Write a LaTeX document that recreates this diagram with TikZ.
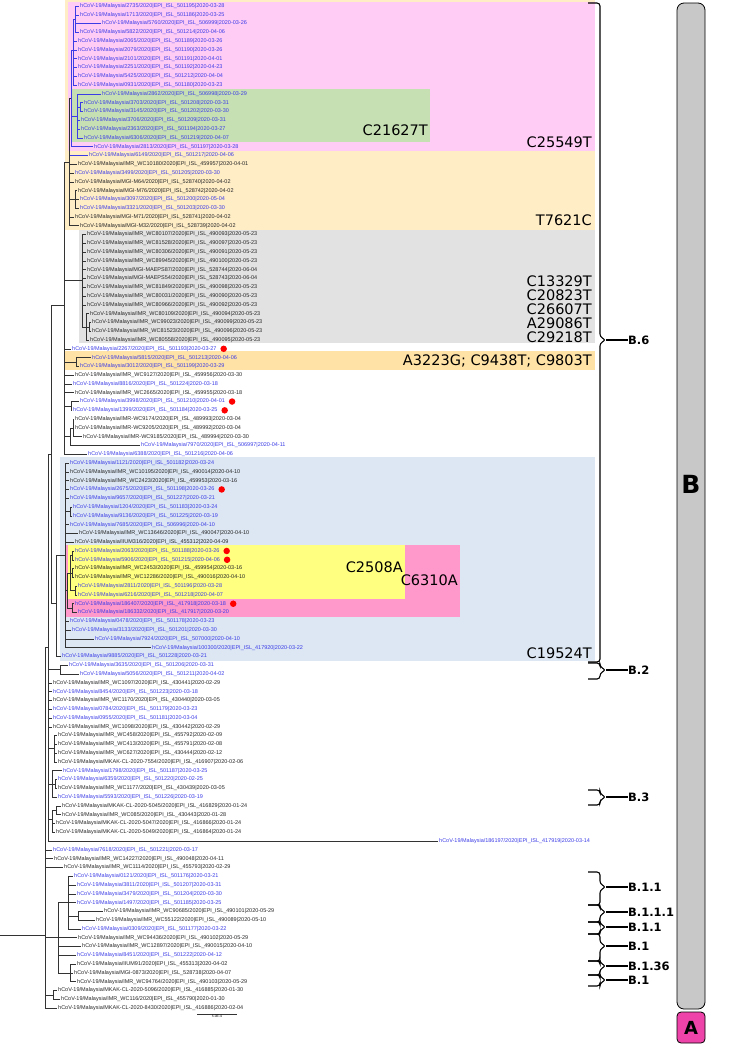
\documentclass[tikz,border=0pt]{standalone}
\usepackage{fontspec}
\setmainfont{Liberation Sans}
\newfontfamily\annfont{DejaVu Sans}
\usepackage{tikz}
\usetikzlibrary{positioning, calc}
\definecolor{leafblue}{HTML}{3C3CE6}
\definecolor{leafblack}{HTML}{262626}
\definecolor{treeline}{HTML}{333333}
\definecolor{creamC}{HTML}{FFEDC6}
\definecolor{pinkA}{HTML}{FFCCF6}
\definecolor{greenC}{HTML}{C6E0B4}
\definecolor{grayC}{HTML}{E2E2E2}
\definecolor{orangeD}{HTML}{FFE2A6}
\definecolor{blueE}{HTML}{DCE7F3}
\definecolor{pinkF}{HTML}{FF99CC}
\definecolor{yellowG}{HTML}{FFFF80}
\definecolor{barfill}{HTML}{C8C8C8}
\definecolor{cladeA}{HTML}{EE44AA}
% row position of a leaf
\newcommand\ry[1]{-6-(#1-1)*8.79}

\begin{document}
\begin{tikzpicture}[
  x=1pt, y=1pt,
  leaf/.style={anchor=west, inner sep=1pt, font=\fontsize{5.5}{6}\selectfont},
  br/.style={draw=treeline, line width=0.55pt},
  brB/.style={draw=leafblue, line width=0.55pt},
  dot/.style={circle, fill=red, inner sep=0pt, minimum size=6.5pt},
  mut/.style={anchor=east, inner sep=0pt, font=\annfont\fontsize{14.5}{15}\selectfont},
  clab/.style={anchor=west, inner sep=0pt, font=\annfont\bfseries\fontsize{11.5}{12}\selectfont},
  brace/.style={draw=black, line width=1.1pt, rounded corners=3pt},
]
\useasboundingbox (0,0) rectangle (738,-1044);

% clade boxes
\fill[creamC]  (65,0)    rectangle (595,-230);
\fill[pinkA]   (68,-2)   rectangle (595,-151);
\fill[greenC]  (72,-89)  rectangle (430,-142);
\fill[grayC]   (79,-230) rectangle (595,-343);
\fill[orangeD] (65,-351) rectangle (595,-370);
\fill[blueE]   (60,-457) rectangle (595,-661);
\fill[pinkF]   (65,-545) rectangle (460,-617);
\fill[yellowG] (68,-545) rectangle (405,-599);

% leaves
\foreach \i/\x/\col/\id/\epi/\dt in {
  1/79/leafblue/2735/501195/2020-03-28, 2/79/leafblue/1713/501186/2020-03-25,
  3/101/leafblue/5760/506999/2020-03-26, 4/79/leafblue/5822/501214/2020-04-06,
  5/77/leafblue/2065/501189/2020-03-26, 6/77/leafblue/2079/501190/2020-03-26,
  7/77/leafblue/2101/501191/2020-04-01, 8/77/leafblue/2251/501192/2020-04-23,
  9/77/leafblue/5425/501212/2020-04-04, 10/77/leafblue/0931/501180/2020-03-23,
  11/101/leafblue/2862/506998/2020-03-29, 12/83/leafblue/3703/501208/2020-03-31,
  13/83/leafblue/3145/501202/2020-03-30, 14/80/leafblue/3706/501209/2020-03-31,
  15/80/leafblue/2363/501194/2020-03-27, 16/83/leafblue/6306/501219/2020-04-07,
  17/93/leafblue/2813/501197/2020-03-28, 18/88/leafblue/6149/501217/2020-04-06,
  19/77/leafblack/IMR\_WC10180/459957/2020-04-01, 20/74/leafblue/3499/501205/2020-03-30,
  21/74/leafblack/MGI-M64/528740/2020-04-02, 22/77/leafblack/MGI-M76/528742/2020-04-02,
  23/79/leafblue/3097/501200/2020-05-04, 24/79/leafblue/3321/501203/2020-03-30,
  25/74/leafblack/MGI-M71/528741/2020-04-02, 26/79/leafblack/MGI-M32/528739/2020-04-02,
  27/86/leafblack/IMR\_WC80107/490093/2020-05-23, 28/86/leafblack/IMR\_WC81528/490097/2020-05-23,
  29/86/leafblack/IMR\_WC80306/490091/2020-05-23, 30/86/leafblack/IMR\_WC89945/490100/2020-05-23,
  31/86/leafblack/MGI-MAEPS87/528744/2020-06-04, 32/86/leafblack/MGI-MAEPS54/528743/2020-06-04,
  33/86/leafblack/IMR\_WC81849/490098/2020-05-23, 34/86/leafblack/IMR\_WC80031/490090/2020-05-23,
  35/86/leafblack/IMR\_WC80966/490092/2020-05-23, 36/89/leafblack/IMR\_WC80109/490094/2020-05-23,
  37/91/leafblack/IMR\_WC99023/490099/2020-05-23, 38/91/leafblack/IMR\_WC81523/490096/2020-05-23,
  39/89/leafblack/IMR\_WC80558/490095/2020-05-23, 40/71/leafblue/2267/501193/2020-03-27,
  41/91/leafblue/5815/501213/2020-04-06, 42/79/leafblue/3012/501199/2020-03-29,
  43/74/leafblack/IMR\_WC9127/459956/2020-03-30, 44/72/leafblue/8816/501224/2020-03-18,
  45/74/leafblack/IMR\_WC2665/459955/2020-03-18, 46/79/leafblue/3998/501210/2020-04-01,
  47/72/leafblue/1399/501184/2020-03-25, 48/74/leafblack/IMR-WC9174/489993/2020-03-04,
  49/74/leafblack/IMR-WC9205/489992/2020-03-04, 50/82/leafblack/IMR-WC9185/489994/2020-03-30,
  51/140/leafblue/7970/506997/2020-04-11, 52/87/leafblue/6388/501216/2020-04-06,
  53/69/leafblue/1121/501182/2020-03-24, 54/69/leafblack/IMR\_WC10195/490014/2020-04-10,
  55/69/leafblack/IMR\_WC2423/459953/2020-03-16, 56/69/leafblue/2675/501198/2020-03-26,
  57/69/leafblue/9657/501227/2020-03-21, 58/72/leafblue/1204/501183/2020-03-24,
  59/72/leafblue/9136/501225/2020-03-19, 60/69/leafblue/7685/506996/2020-04-10,
  61/78/leafblack/IMR\_WC13646/490047/2020-04-10, 62/74/leafblack/IIUM316/455312/2020-04-09,
  63/74/leafblue/2063/501188/2020-03-26, 64/74/leafblue/5906/501215/2020-04-06,
  65/74/leafblack/IMR\_WC2453/459954/2020-03-16, 66/74/leafblack/IMR\_WC12286/490016/2020-04-10,
  67/77/leafblue/2811/501196/2020-03-28, 68/77/leafblue/6216/501218/2020-04-07,
  69/74/leafblue/186407/417918/2020-03-18, 70/77/leafblue/186332/417917/2020-03-20,
  71/69/leafblue/0478/501178/2020-03-23, 72/71/leafblue/3133/501201/2020-03-30,
  73/94/leafblue/7924/507000/2020-04-10, 74/151/leafblue/100300/417920/2020-03-22,
  75/61/leafblue/9885/501228/2020-03-21, 76/68/leafblue/3635/501206/2020-03-31,
  77/79/leafblue/5056/501211/2020-04-02, 78/52/leafblack/IMR\_WC1097/430441/2020-02-29,
  79/52/leafblue/8454/501223/2020-03-18, 80/52/leafblack/IMR\_WC1170/430440/2020-03-05,
  81/52/leafblue/0784/501179/2020-03-23, 82/52/leafblue/0955/501181/2020-03-04,
  83/52/leafblack/IMR\_WC1098/430442/2020-02-29, 84/57/leafblack/IMR\_WC458/455792/2020-02-09,
  85/57/leafblack/IMR\_WC413/455791/2020-02-08, 86/57/leafblack/IMR\_WC627/430444/2020-02-12,
  87/57/leafblack/MKAK-CL-2020-7554/416907/2020-02-06, 88/62/leafblue/1798/501187/2020-03-25,
  89/57/leafblue/6359/501220/2020-02-25, 90/57/leafblack/IMR\_WC1177/430439/2020-03-05,
  91/57/leafblue/5593/501226/2020-03-19, 92/61/leafblack/MKAK-CL-2020-5045/416829/2020-01-24,
  93/61/leafblack/IMR\_WC085/430443/2020-01-28, 94/55/leafblack/MKAK-CL-2020-5047/416866/2020-01-24,
  95/55/leafblack/MKAK-CL-2020-5049/416864/2020-01-24, 96/438/leafblue/186197/417919/2020-03-14,
  97/52/leafblue/7618/501221/2020-03-17, 98/53/leafblack/IMR\_WC14227/490048/2020-04-11,
  99/63/leafblack/IMR\_WC1114/455793/2020-02-29, 100/73/leafblue/0121/501176/2020-03-21,
  101/76/leafblue/3811/501207/2020-03-31, 102/76/leafblue/3479/501204/2020-03-30,
  103/76/leafblue/1497/501185/2020-03-25, 104/103/leafblack/IMR\_WC90685/490101/2020-05-29,
  105/95/leafblack/IMR\_WC55122/490089/2020-05-10, 106/81/leafblue/0309/501177/2020-03-22,
  107/77/leafblack/IMR\_WC94436/490102/2020-05-29, 108/81/leafblack/IMR\_WC12897/490015/2020-04-10,
  109/76/leafblue/8451/501222/2020-04-12, 110/76/leafblack/IIUM91/455313/2020-04-02,
  111/73/leafblack/MGI-0873/528738/2020-04-07, 112/76/leafblack/IMR\_WC94764/490103/2020-05-29,
  113/57/leafblack/MKAK-CL-2020-5096/416885/2020-01-30, 114/60/leafblack/IMR\_WC116/455790/2020-01-30,
  115/57/leafblack/MKAK-CL-2020-8430/416886/2020-02-04}
  \node[leaf, text=\col] (l\i) at (\x,{\ry{\i}}) {hCoV-19/Malaysia/\id/2020|EPI\_ISL\_\epi|\dt};

% red dots
\foreach \k in {40,46,47,56,63,64,69}
  \node[dot, right=2.5pt of l\k] (d\k) {};

% internal nodes
\coordinate (nP1)   at (75,{\ry{2.5}});
\coordinate (nP2)   at (73,{\ry{6}});
\coordinate (nGr1)  at (80,{\ry{12.5}});
\coordinate (nGr)   at (77,{\ry{13.5}});
\coordinate (nP)    at (71,{\ry{11.5}});
\coordinate (nM)    at (75,{\ry{23}});
\coordinate (nC)    at (69,{\ry{18.75}});
\coordinate (nG2)   at (89.5,{\ry{37.5}});
\coordinate (nG1)   at (86.5,{\ry{37.5}});
\coordinate (nG)    at (82,{\ry{32.25}});
\coordinate (nO)    at (76,{\ry{41.5}});
\coordinate (nW1)   at (71,{\ry{46.5}});
\coordinate (nW3)   at (73,{\ry{49}});
\coordinate (nW2)   at (70,{\ry{50}});
\coordinate (nU)    at (64,{\ry{35}});
\coordinate (nS1)   at (70,{\ry{58.5}});
\coordinate (nY1)   at (72,{\ry{63.5}});
\coordinate (nY2)   at (72,{\ry{65.5}});
\coordinate (nY3)   at (75,{\ry{67.5}});
\coordinate (nY)    at (70,{\ry{65.5}});
\coordinate (nK)    at (72,{\ry{69.5}});
\coordinate (nPk)   at (67,{\ry{67.5}});
\coordinate (nBl)   at (65,{\ry{63.5}});
\coordinate (nBlue) at (56,{\ry{69}});
\coordinate (nB6)   at (51,{\ry{52}});
\coordinate (nB2)   at (60,{\ry{76.5}});
\coordinate (nF1)   at (54,{\ry{85.5}});
\coordinate (nH1)   at (55,{\ry{89.5}});
\coordinate (nH)    at (52,{\ry{89.5}});
\coordinate (nJ1)   at (56,{\ry{92.5}});
\coordinate (nJ)    at (52,{\ry{93.5}});
\coordinate (nA0)   at (48,{\ry{74}});
\coordinate (nB111) at (78,{\ry{104.5}});
\coordinate (nB11)  at (68,{\ry{103}});
\coordinate (nB136) at (70,{\ry{111}});
\coordinate (nB1)   at (58,{\ry{107}});
\coordinate (nA1)   at (53,{\ry{113.5}});
\coordinate (nR)    at (45,-935);
\coordinate (stem)  at (0,-935);

% branches, pink clade
\foreach \k in {1,2,3,4} \draw[brB] (nP1) |- (l\k.west);
\foreach \k in {5,...,10} \draw[brB] (nP2) |- (l\k.west);
\draw[brB] (nP2) |- (nP1);
\foreach \k in {12,13} \draw[brB] (nGr1) |- (l\k.west);
\foreach \k in {11,14,15,16} \draw[brB] (nGr) |- (l\k.west);
\draw[brB] (nGr) |- (nGr1);
\draw[brB] (nP) |- (nP2);
\draw[brB] (nP) |- (nGr);
\draw[brB] (nP) |- (l17.west);
% cream clade
\foreach \k in {22,23,24} \draw[br] (nM) |- (l\k.west);
\foreach \k in {19,20,21,25,26} \draw[br] (nC) |- (l\k.west);
\draw[brB] (nC) |- (l18.west);
\draw[br] (nC) |- (nP);
\draw[br] (nC) |- (nM);
% grey clade
\foreach \k in {37,38} \draw[br] (nG2) |- (l\k.west);
\foreach \k in {36,39} \draw[br] (nG1) |- (l\k.west);
\draw[br] (nG1) |- (nG2);
\foreach \k in {27,...,35} \draw[br] (nG) |- (l\k.west);
\draw[br] (nG) |- (nG1);
% rest of B.6 upper part
\foreach \k in {41,42} \draw[br] (nO) |- (l\k.west);
\foreach \k in {46,47} \draw[br] (nW1) |- (l\k.west);
\foreach \k in {48,49,50} \draw[br] (nW3) |- (l\k.west);
\draw[br] (nW2) |- (nW3);
\draw[br] (nW2) |- (l51.west);
\foreach \k in {40,43,44,45,52} \draw[br] (nU) |- (l\k.west);
\foreach \n in {nC,nG,nO,nW1,nW2} \draw[br] (nU) |- (\n);
% blue clade
\foreach \k in {58,59} \draw[br] (nS1) |- (l\k.west);
\foreach \k in {63,64} \draw[br] (nY1) |- (l\k.west);
\foreach \k in {65,66} \draw[br] (nY2) |- (l\k.west);
\foreach \k in {67,68} \draw[br] (nY3) |- (l\k.west);
\foreach \n in {nY1,nY2,nY3} \draw[br] (nY) |- (\n);
\foreach \k in {69,70} \draw[br] (nK) |- (l\k.west);
\draw[br] (nPk) |- (nY);
\draw[br] (nPk) |- (nK);
\foreach \k in {53,54,55,56,57,60,61,62,71,72,73,74} \draw[br] (nBl) |- (l\k.west);
\draw[br] (nBl) |- (nS1);
\draw[br] (nBl) |- (nPk);
\draw[br] (nBlue) |- (nBl);
\draw[br] (nBlue) |- (l75.west);
\draw[br] (nB6) |- (nU);
\draw[br] (nB6) |- (nBlue);
% B.2, B.3 and others
\foreach \k in {76,77} \draw[br] (nB2) |- (l\k.west);
\foreach \k in {84,...,87} \draw[br] (nF1) |- (l\k.west);
\foreach \k in {89,90} \draw[br] (nH1) |- (l\k.west);
\draw[br] (nH) |- (nH1);
\foreach \k in {88,91} \draw[br] (nH) |- (l\k.west);
\foreach \k in {92,93} \draw[br] (nJ1) |- (l\k.west);
\draw[br] (nJ) |- (nJ1);
\foreach \k in {94,95} \draw[br] (nJ) |- (l\k.west);
\foreach \k in {78,...,83,96} \draw[br] (nA0) |- (l\k.west);
\foreach \n in {nB6,nB2,nF1,nH,nJ} \draw[br] (nA0) |- (\n);
% B.1
\foreach \k in {104,105} \draw[br] (nB111) |- (l\k.west);
\foreach \k in {100,...,103,106} \draw[br] (nB11) |- (l\k.west);
\draw[br] (nB11) |- (nB111);
\foreach \k in {110,111,112} \draw[br] (nB136) |- (l\k.west);
\foreach \k in {107,108,109} \draw[br] (nB1) |- (l\k.west);
\draw[br] (nB1) |- (nB11);
\draw[br] (nB1) |- (nB136);
% A and root
\foreach \k in {113,114} \draw[br] (nA1) |- (l\k.west);
\foreach \k in {97,98,99,115} \draw[br] (nR) |- (l\k.west);
\foreach \n in {nA0,nB1,nA1} \draw[br] (nR) |- (\n);
\draw[br] (stem) -- (nR);

% scale bar
\coordinate (sbL) at (197,-1014);
\coordinate (sbR) at (237,-1014);
\draw[br] (sbL) -- (sbR) node[midway, below=1pt, inner sep=0pt, font=\fontsize{3.5}{4}\selectfont] (sbT) {5.0E-4};

% mutation labels
\node[mut] (mA) at (592,-142) {C25549T};
\node[mut] (mGr) at (428,-130) {C21627T};
\node[mut] (mC) at (592,-220) {T7621C};
\foreach \m [count=\j] in {C13329T,C20823T,C26607T,A29086T,C29218T}
  \node[mut] (mG\j) at (592,{-281-(\j-1)*14}) {\m};
\node[mut] (mO) at (592,-361) {A3223G; C9438T; C9803T};
\node[mut] (mY) at (403,-567) {C2508A};
\node[mut] (mK) at (458,-580) {C6310A};
\node[mut] (mBl) at (592,-653) {C19524T};

% lineage brackets
\foreach \ya/\yb/\ym/\lab/\nm in {3/662/340/B.6/b6, 663/679/670/B.2/b2,
    790/805/797/B.3/b3, 872/905/887/B.1.1/b11, 905/922/912/B.1.1.1/b111,
    922/934/927/B.1.1/b11x, 934/961/946/B.1/b1, 961/975/966/B.1.36/b136,
    975/986/980/B.1/b1x} {
  \draw[brace] (588,-\ya) -- (600,-\ya) -- (600,{-\ym+3}) -- (606,-\ym)
    -- (600,{-\ym-3}) -- (600,-\yb) -- (588,-\yb);
  \coordinate (t\nm) at (606,-\ym);
  \node[clab] (lab\nm) at (628,-\ym) {\lab};
  \draw[line width=1.1pt] (t\nm) -- (lab\nm.west);
}

% clade bars
\draw[fill=barfill, line width=0.8pt, rounded corners=7pt] (677,-3) rectangle (705,-1009);
\node[font=\annfont\bfseries\fontsize{25}{26}\selectfont] (cB) at (691,-484) {B};
\draw[fill=cladeA, line width=0.8pt, rounded corners=4pt] (677,-1012) rectangle (705,-1043);
\node[font=\annfont\bfseries\fontsize{18}{19}\selectfont] (cA) at (691,-1028) {A};
\end{tikzpicture}
\end{document}
